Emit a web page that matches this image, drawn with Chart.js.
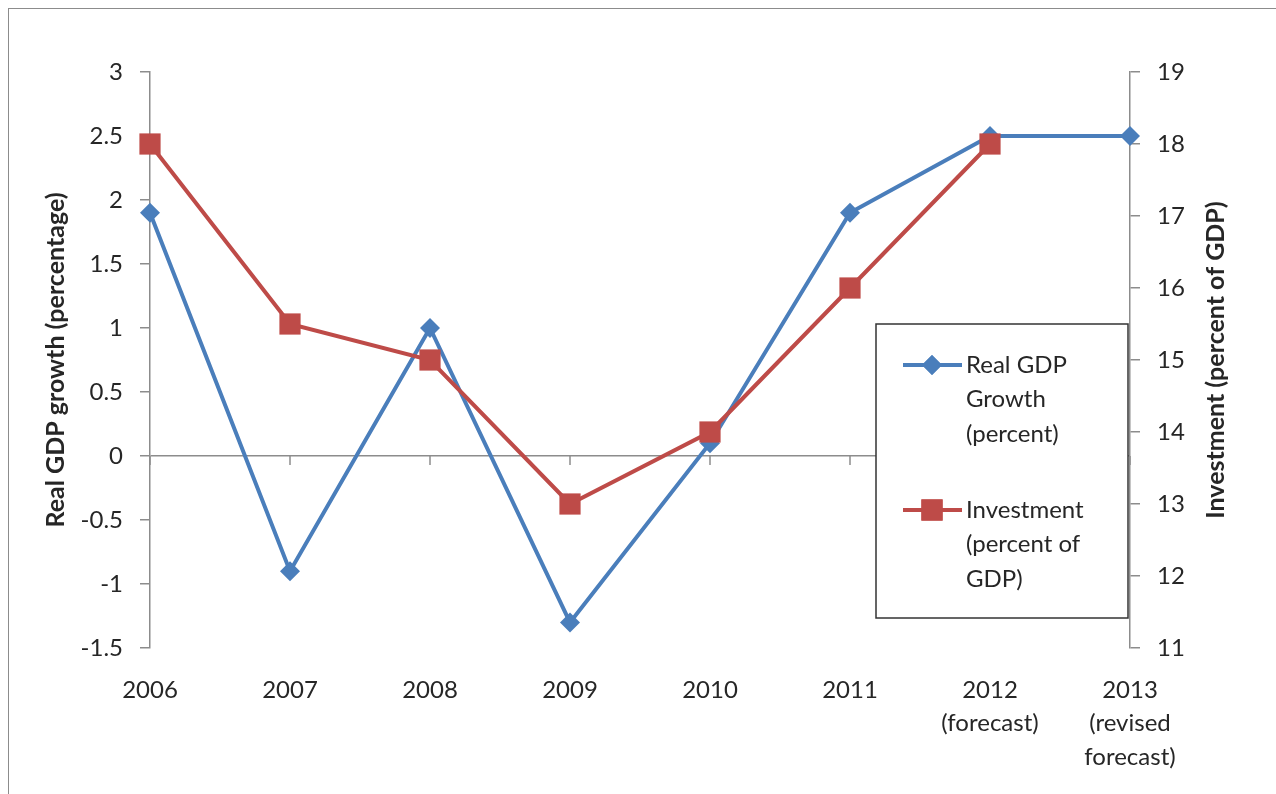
<!DOCTYPE html>
<html>
<head>
<meta charset="utf-8">
<script src="https://cdn.jsdelivr.net/npm/chart.js@4/dist/chart.umd.min.js"></script>
<style>
    body { margin: 0; background: #fff; overflow: hidden; }
    #frame { position: absolute; left: 8px; top: 8px; width: 1300px; height: 820px; border: 1.5px solid #8c8c8c; }
    #wrap { position: absolute; left: 0; top: 0; width: 1276px; height: 794px; }
</style>
</head>
<body>
<div id="frame"></div>
<div id="wrap"><canvas id="gdpChart"></canvas></div>
<script>
// Data
const years = ['2006', '2007', '2008', '2009', '2010', '2011', ['2012', '(forecast)'], ['2013', '(revised', 'forecast)']];
const gdpGrowth = [1.9, -0.9, 1.0, -1.3, 0.1, 1.9, 2.5, 2.5];
const investment = [18, 15.5, 15, 13, 14, 16, 18, null];
const leftTicks = { min: -1.5, max: 3, step: 0.5 };
const rightTicks = { min: 11, max: 19, step: 1 };

const BLUE = '#4A7EBB';
const RED = '#BE4B48';
const AXIS = '#8c8c8c';
const TEXT = '#262626';

Chart.defaults.font.family = 'Lato, "Liberation Sans", sans-serif';
Chart.defaults.font.size = 24;
Chart.defaults.color = TEXT;

// zero line ticks, axis titles, legend box
const extras = {
    id: 'extras',
    beforeDatasetsDraw(chart) {
        const ctx = chart.ctx;
        const x = chart.scales.x;
        const zero = chart.scales.y.getPixelForValue(0);
        ctx.save();
        ctx.strokeStyle = AXIS;
        ctx.lineWidth = 1.5;
        years.forEach((_, i) => {
            const px = x.getPixelForValue(i);
            ctx.beginPath();
            ctx.moveTo(px, zero);
            ctx.lineTo(px, zero + 9);
            ctx.stroke();
        });
        ctx.restore();
    },
    afterDraw(chart) {
        const ctx = chart.ctx;
        const area = chart.chartArea;
        const midY = (area.top + area.bottom) / 2;

        ctx.save();
        ctx.fillStyle = TEXT;
        ctx.font = 'bold 25px Lato, sans-serif';
        ctx.textAlign = 'center';
        ctx.textBaseline = 'middle';
        ctx.translate(56, midY);
        ctx.rotate(-Math.PI / 2);
        ctx.fillText('Real GDP growth (percentage)', 0, 0);
        ctx.restore();

        ctx.save();
        ctx.fillStyle = TEXT;
        ctx.font = 'bold 25px Lato, sans-serif';
        ctx.textAlign = 'center';
        ctx.textBaseline = 'middle';
        ctx.translate(1216, midY);
        ctx.rotate(-Math.PI / 2);
        ctx.fillText('Investment (percent of GDP)', 0, 0);
        ctx.restore();

        // Legend
        ctx.save();
        ctx.fillStyle = '#fff';
        ctx.fillRect(876, 324, 252, 294);
        ctx.strokeStyle = '#333';
        ctx.lineWidth = 1.5;
        ctx.strokeRect(876, 324, 252, 294);

        const items = [
            { color: BLUE, style: 'rectRot', radius: 10, y: 365, lines: ['Real GDP', 'Growth', '(percent)'] },
            { color: RED, style: 'rect', radius: 15, y: 510, lines: ['Investment', '(percent of', 'GDP)'] }
        ];
        items.forEach(it => {
            ctx.strokeStyle = it.color;
            ctx.lineWidth = 4;
            ctx.beginPath();
            ctx.moveTo(903, it.y);
            ctx.lineTo(962, it.y);
            ctx.stroke();
            ctx.fillStyle = it.color;
            Chart.helpers.drawPoint(ctx, { pointStyle: it.style, radius: it.radius, borderWidth: 0, rotation: 0 }, 932, it.y);
            ctx.fill();
            ctx.fillStyle = TEXT;
            ctx.font = '24px Lato, sans-serif';
            ctx.textAlign = 'left';
            ctx.textBaseline = 'middle';
            it.lines.forEach((t, k) => ctx.fillText(t, 966, it.y + k * 34.5));
        });
        ctx.restore();
    }
};

new Chart(document.getElementById('gdpChart'), {
    type: 'line',
    data: {
        labels: years,
        datasets: [{
            label: 'Real GDP Growth (percent)',
            data: gdpGrowth,
            yAxisID: 'y',
            borderColor: BLUE,
            backgroundColor: BLUE,
            borderWidth: 4,
            pointStyle: 'rectRot',
            pointRadius: 10,
            pointBorderWidth: 0,
            tension: 0,
            order: 2
        }, {
            label: 'Investment (percent of GDP)',
            data: investment,
            yAxisID: 'y1',
            borderColor: RED,
            backgroundColor: RED,
            borderWidth: 4,
            pointStyle: 'rect',
            pointRadius: 15,
            pointBorderWidth: 0,
            tension: 0,
            order: 1
        }]
    },
    options: {
        responsive: true,
        maintainAspectRatio: false,
        animation: false,
        layout: {
            padding: { top: 72, left: 0, right: 0, bottom: 0 }
        },
        plugins: {
            legend: { display: false },
            tooltip: { enabled: false }
        },
        scales: {
            x: {
                type: 'category',
                offset: false,
                grid: { display: false },
                border: { display: false },
                ticks: {
                    maxRotation: 0,
                    autoSkip: false,
                    padding: 17,
                    font: { size: 24, lineHeight: 1.4 }
                },
                afterFit: scale => { scale.height = 146; }
            },
            y: {
                position: 'left',
                min: leftTicks.min,
                max: leftTicks.max,
                grid: {
                    color: c => c.tick && c.tick.value === 0 ? AXIS : 'rgba(0,0,0,0)',
                    lineWidth: 1.5,
                    tickColor: AXIS,
                    tickLength: 10
                },
                border: { color: AXIS, width: 1.5 },
                ticks: {
                    stepSize: leftTicks.step,
                    padding: 17,
                    callback: v => String(v)
                },
                afterFit: scale => { scale.width = 150; }
            },
            y1: {
                position: 'right',
                min: rightTicks.min,
                max: rightTicks.max,
                grid: {
                    drawOnChartArea: false,
                    tickColor: AXIS,
                    tickLength: 10,
                    lineWidth: 1.5
                },
                border: { color: AXIS, width: 1.5 },
                ticks: {
                    stepSize: rightTicks.step,
                    padding: 17
                },
                afterFit: scale => { scale.width = 146; }
            }
        }
    },
    plugins: [extras]
});
</script>
</body>
</html>
